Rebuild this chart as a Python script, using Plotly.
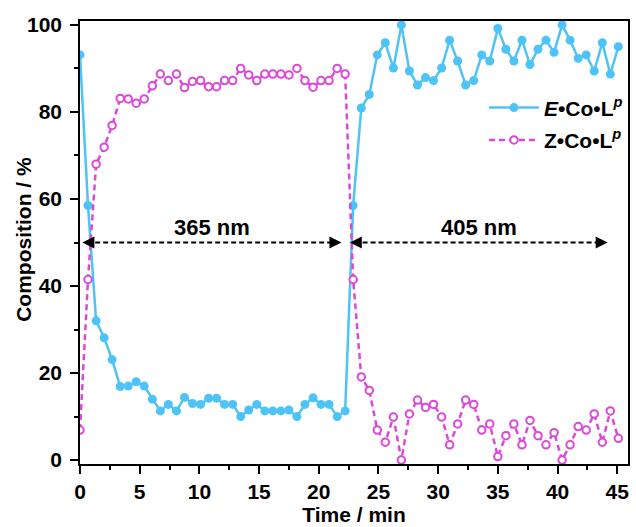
import plotly.graph_objects as go

time_min = [0.00, 0.67, 1.35, 2.02, 2.69, 3.37, 4.04, 4.71, 5.38, 6.06,
            6.73, 7.40, 8.08, 8.75, 9.42, 10.10, 10.77, 11.44, 12.11, 12.79,
            13.46, 14.13, 14.81, 15.48, 16.15, 16.83, 17.50, 18.17, 18.84, 19.52,
            20.19, 20.86, 21.54, 22.21, 22.88, 23.56, 24.23, 24.90, 25.57, 26.25,
            26.92, 27.59, 28.27, 28.94, 29.61, 30.29, 30.96, 31.63, 32.30, 32.98,
            33.65, 34.32, 35.00, 35.67, 36.34, 37.02, 37.69, 38.36, 39.03, 39.71,
            40.38, 41.05, 41.73, 42.40, 43.07, 43.75, 44.42, 45.09]

e_comp = [93.1, 58.5, 32.0, 28.1, 23.1, 16.9, 17.0, 18.0, 17.0, 14.0,
          11.3, 12.8, 11.3, 14.4, 13.0, 12.8, 14.2, 14.2, 12.8, 12.8,
          10.0, 11.5, 12.8, 11.3, 11.3, 11.3, 11.5, 10.0, 12.8, 14.3,
          12.8, 12.8, 10.0, 11.3, 58.5, 80.9, 84.0, 93.1, 95.9, 90.1,
          100.0, 89.4, 86.2, 87.9, 87.2, 90.1, 96.5, 91.7, 86.2, 87.2,
          93.1, 91.7, 99.2, 94.4, 91.7, 96.5, 90.9, 94.4, 96.5, 93.7,
          100.0, 96.5, 92.3, 93.1, 89.4, 95.9, 88.7, 95.0]

z_comp = [6.9, 41.5, 68.0, 71.9, 76.9, 83.1, 83.0, 82.0, 83.0, 86.0,
          88.7, 87.2, 88.7, 85.6, 87.0, 87.2, 85.8, 85.8, 87.2, 87.2,
          90.0, 88.5, 87.2, 88.7, 88.7, 88.7, 88.5, 90.0, 87.2, 85.7,
          87.2, 87.2, 90.0, 88.7, 41.5, 19.1, 16.0, 6.9, 4.1, 9.9,
          0.0, 10.6, 13.8, 12.1, 12.8, 9.9, 3.5, 8.3, 13.8, 12.8,
          6.9, 8.3, 0.8, 5.6, 8.3, 3.5, 9.1, 5.6, 3.5, 6.3,
          0.0, 3.5, 7.7, 6.9, 10.6, 4.1, 11.3, 5.0]

series_names = ["<i>E</i>•Co•L<sup><i>p</i></sup>", "Z•Co•L<sup><i>p</i></sup>"]

# irradiation windows: (label, start, end)
windows = [("365 nm", 0.2, 21.9), ("405 nm", 22.6, 44.2)]
arrow_y = 50
label_y = 53.5

BLUE = "#4EC3F7"
PINK = "#DC48DA"
FONT = "Liberation Sans, Arial, sans-serif"

fig = go.Figure()
fig.add_trace(go.Scatter(
    x=time_min, y=e_comp, name=series_names[0], mode="lines+markers",
    line=dict(color=BLUE, width=2.5),
    marker=dict(color=BLUE, size=9, symbol="circle"),
    legendgroup="e"))
fig.add_trace(go.Scatter(
    x=time_min, y=z_comp, name=series_names[1], mode="lines+markers",
    line=dict(color=PINK, width=2.5, dash="6px,4px"),
    marker=dict(color="white", size=7.5, symbol="circle",
                line=dict(color=PINK, width=2)),
    legendgroup="z"))

shapes = []
annotations = []
for label, x0, x1 in windows:
    shapes.append(dict(type="line", xref="x", yref="y", x0=x0 + 0.4, x1=x1 - 0.4,
                       y0=arrow_y, y1=arrow_y,
                       line=dict(color="black", width=2, dash="5px,3px")))
    # arrow heads (tip sits at the marker position)
    fig.add_trace(go.Scatter(
        x=[x0], y=[arrow_y], mode="markers", showlegend=False, hoverinfo="skip",
        marker=dict(symbol="arrow-left", size=12, color="black", line=dict(width=0))))
    fig.add_trace(go.Scatter(
        x=[x1], y=[arrow_y], mode="markers", showlegend=False, hoverinfo="skip",
        marker=dict(symbol="arrow-right", size=12, color="black", line=dict(width=0))))
    annotations.append(dict(x=(x0 + x1) / 2, y=label_y, xref="x", yref="y",
                            text=label, showarrow=False,
                            font=dict(family=FONT, size=22, color="black", weight="bold")))

annotations.append(dict(x=0, y=0.506, xref="paper", yref="paper", xshift=-56,
                        text="Composition / %", textangle=-90, showarrow=False,
                        xanchor="center", yanchor="middle",
                        font=dict(family=FONT, size=21, color="black", weight="bold")))

axis_common = dict(
    showline=True, linecolor="black", linewidth=1.6, mirror=True,
    ticks="outside", ticklen=8, tickwidth=1.6, tickcolor="black",
    showgrid=False, zeroline=False, automargin=False,
    tickfont=dict(family=FONT, size=21, color="black", weight="bold"),
)

fig.update_layout(
    width=636, height=527,
    margin=dict(l=80, r=8, t=21, b=63, autoexpand=False),
    paper_bgcolor="white", plot_bgcolor="white",
    font=dict(family=FONT, color="black"),
    xaxis=dict(range=[0, 45.9], dtick=5, tick0=0,
               minor=dict(dtick=2.5, ticklen=4, tickwidth=1.6, tickcolor="black", ticks="outside"),
               title=dict(text="Time / min", standoff=5,
                          font=dict(family=FONT, size=21, color="black", weight="bold")),
               **axis_common),
    yaxis=dict(range=[-0.9, 100.9], dtick=20, tick0=0, ticklabelstandoff=4,
               minor=dict(dtick=10, ticklen=4, tickwidth=1.6, tickcolor="black", ticks="outside"),
               **axis_common),
    legend=dict(x=1.0, xanchor="right", y=0.85, yanchor="top",
                bgcolor="rgba(0,0,0,0)", borderwidth=0,
                traceorder="grouped", tracegroupgap=2, itemwidth=50,
                font=dict(family=FONT, size=21, color="black", weight="bold")),
    shapes=shapes,
    annotations=annotations,
)

fig.write_html("out.html")
